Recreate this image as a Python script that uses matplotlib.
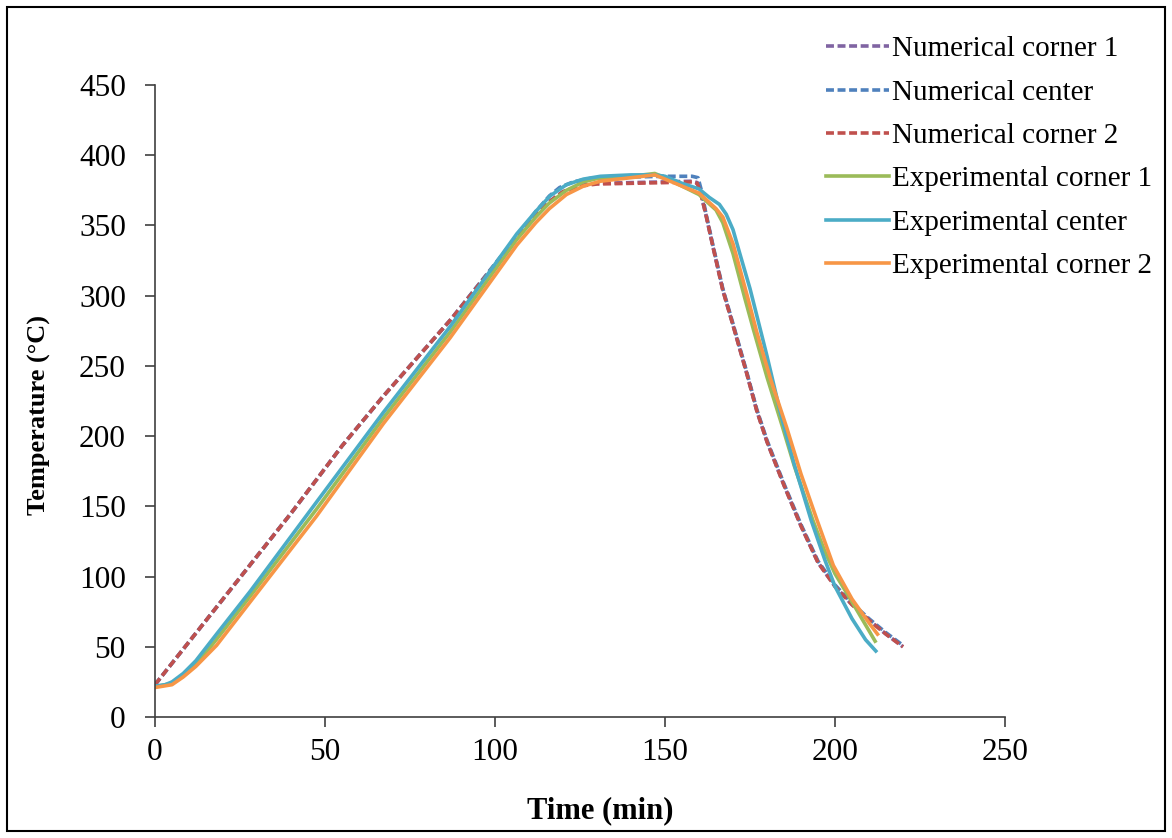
import numpy as np
import matplotlib.pyplot as plt
from matplotlib.patches import Rectangle

plt.rcParams['font.family'] = ['Liberation Serif', 'DejaVu Serif']

# numerical curves (time in min, temperature in degC)
num_c2_t = [0, 20, 40, 55, 67, 87, 106, 112, 116, 120, 125, 130, 140, 150, 158, 159.5,
            160.5, 162, 164, 167, 170, 174, 177, 180, 185, 190, 195, 200, 205, 210, 215, 220]
num_c2_T = [23, 84, 145, 193, 228, 283, 340, 357, 367, 374, 378, 379.5, 380, 380.5, 381, 380,
            373, 358, 336, 304, 279, 245, 218, 196, 165, 136, 110, 93, 80, 69, 59, 50]

num_c1_t = num_c2_t
num_c1_T = [23, 84, 145, 193, 228, 283, 340, 357, 367, 374, 378.5, 380, 380.5, 381, 381.5, 380.5,
            373, 358, 336, 304, 279, 245, 218, 196, 165, 136, 110, 93, 80, 69, 59, 50]

num_ce_t = [0, 20, 40, 55, 67, 87, 106, 112, 116, 119, 123, 128, 140, 150, 158, 159.7,
            160.7, 162, 164, 167, 170, 174, 177, 180, 185, 190, 195, 200, 205, 210, 215, 220]
num_ce_T = [23, 84, 145, 193, 228, 283, 341, 360, 371, 377, 381, 383.5, 384.5, 385, 385, 384,
            375, 359, 337, 305, 280, 246, 219, 197, 166, 137, 111, 94, 81, 70, 60, 51]

# experimental curves
exp_c1_t = [0, 5, 8.3, 12, 18, 28, 47.5, 67.2, 86.8, 106.4, 112, 116, 121, 126, 131, 140, 147,
            150, 155, 160, 165, 167, 170, 173.5, 176, 180, 184.5, 188, 193.5, 197, 200, 205, 211.8]
exp_c1_T = [21.5, 24, 29, 37, 55, 86, 148, 213, 274, 340, 356, 366, 375, 381, 384, 385, 387,
            384, 378, 372, 361, 352, 330, 298, 276, 242, 207, 179, 140, 118, 102, 82, 54]

exp_ce_t = [0, 3, 5, 8.3, 12, 18.1, 28, 47.5, 67.2, 86.8, 106.4, 112, 116.2, 121, 126, 131, 140,
            147, 150, 155, 160, 163, 166, 168, 170, 172, 175, 177.4, 180, 184, 188, 193, 197,
            200, 205, 209, 212]
exp_ce_T = [22, 23, 25, 31, 40, 59, 89.5, 153, 217, 278, 344, 360, 371, 379, 383, 385, 386,
            386, 385, 380, 376, 370, 365, 358, 347, 330, 305, 282, 257, 216, 180, 140, 112,
            93, 70, 55, 47]

exp_c2_t = [0, 5, 8.3, 12, 18.1, 28, 47.5, 67.2, 86.8, 106.4, 112, 116, 121, 126, 131, 140, 147,
            150, 155, 160, 165, 167, 170, 174.4, 177, 181, 185.8, 190, 194.6, 199.5, 205, 210, 212.5]
exp_c2_T = [21, 23, 28.5, 36, 51, 82, 143, 209, 270, 336, 352, 362, 372, 378, 381.5, 384, 386,
            383, 378, 373, 362, 356, 337, 298, 274, 241, 206, 173, 141, 108, 84, 67, 59]

x_ticks = [0, 50, 100, 150, 200, 250]
y_ticks = [0, 50, 100, 150, 200, 250, 300, 350, 400, 450]

fig = plt.figure(figsize=(11.72, 8.38), dpi=100)
ax = fig.add_axes([155/1172, 1 - 717/838, 850/1172, 632/838])

dash = (2.2, 1.0)
ax.plot(num_c1_t, num_c1_T, color='#8064A2', lw=2.6, linestyle=(0, dash), label='Numerical corner 1')
ax.plot(num_ce_t, num_ce_T, color='#4F81BD', lw=2.6, linestyle=(0, dash), label='Numerical center')
ax.plot(num_c2_t, num_c2_T, color='#C0504D', lw=2.6, linestyle=(0, dash), label='Numerical corner 2')
ax.plot(exp_c1_t, exp_c1_T, color='#9BBB59', lw=2.6, label='Experimental corner 1')
ax.plot(exp_ce_t, exp_ce_T, color='#4BACC6', lw=2.6, label='Experimental center')
ax.plot(exp_c2_t, exp_c2_T, color='#F79646', lw=2.6, label='Experimental corner 2')

ax.set_xlim(0, 250)
ax.set_ylim(0, 450)
ax.set_xticks(x_ticks)
ax.set_yticks(y_ticks)
ax.tick_params(direction='out', length=7, width=1.2, labelsize=22.5, color='#404040')
ax.tick_params(axis='x', pad=8)
ax.tick_params(axis='y', pad=14)
for s in ['top', 'right']:
    ax.spines[s].set_visible(False)
for s in ['left', 'bottom']:
    ax.spines[s].set_color('#404040')
    ax.spines[s].set_linewidth(1.2)

ax.set_xlabel('Time (min)', fontsize=22, fontweight='bold')
ax.set_ylabel('Temperature (°C)', fontsize=19, fontweight='bold')
ax.xaxis.set_label_coords(0.5235, -0.126)
ax.yaxis.set_label_coords(-0.122, 0.478)

ax.legend(loc='upper left', bbox_to_anchor=(826/1172, 1 - 36/838), frameon=False,
          bbox_transform=fig.transFigure, fontsize=21, handlelength=2.15,
          handletextpad=0.1, labelspacing=0.58, borderpad=0, borderaxespad=0)

fig.patches.append(Rectangle((7/1172, 7/838), 1158/1172, 824/838, transform=fig.transFigure,
                             fill=False, edgecolor='black', lw=1.5))

fig.savefig('out.png', dpi=100)
